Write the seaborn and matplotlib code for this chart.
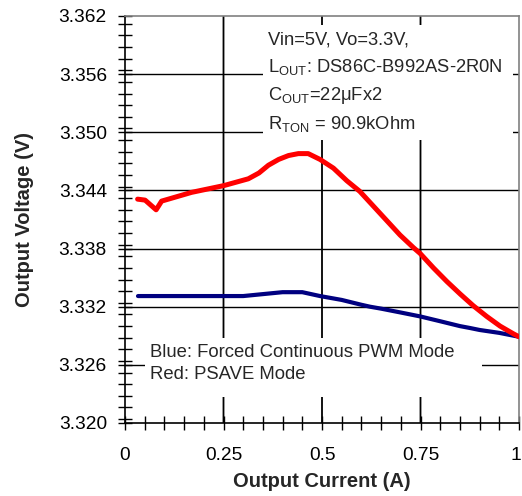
import matplotlib
matplotlib.use("Agg")
import matplotlib.pyplot as plt
import matplotlib.transforms as mtransforms
import seaborn as sns
import pandas as pd
from matplotlib.patches import Rectangle
from matplotlib.ticker import MultipleLocator, FixedLocator

# ---- data ----
blue_current = [0.033, 0.10, 0.20, 0.30, 0.35, 0.40, 0.45, 0.495, 0.55, 0.60,
                0.622, 0.65, 0.70, 0.749, 0.80, 0.85, 0.876, 0.90, 0.95, 1.00]
blue_voltage = [3.3331, 3.3331, 3.3331, 3.3331, 3.3333, 3.3335, 3.3335, 3.3331,
                3.3327, 3.3322, 3.3320, 3.3318, 3.3314, 3.3310, 3.3305, 3.3300,
                3.3298, 3.3296, 3.3293, 3.3289]

red_current = [0.032, 0.051, 0.079, 0.093, 0.110, 0.169, 0.251, 0.313, 0.340, 0.364,
               0.390, 0.415, 0.440, 0.465, 0.495, 0.529, 0.563, 0.596, 0.630, 0.664,
               0.698, 0.732, 0.749, 0.783, 0.817, 0.851, 0.884, 0.918, 0.952, 0.986,
               1.000]
red_voltage = [3.3431, 3.3430, 3.3420, 3.3429, 3.3431, 3.3438, 3.3445, 3.3452, 3.3458,
               3.3466, 3.3472, 3.3476, 3.3478, 3.3478, 3.3472, 3.3463, 3.3450, 3.3439,
               3.3424, 3.3409, 3.3394, 3.3381, 3.3375, 3.3360, 3.3346, 3.3333, 3.3321,
               3.3310, 3.3300, 3.3292, 3.3289]

x_ticks = [0, 0.25, 0.5, 0.75, 1]
x_tick_labels = ["0", "0.25", "0.5", "0.75", "1"]
y_ticks = [3.320, 3.326, 3.332, 3.338, 3.344, 3.350, 3.356, 3.362]
y_tick_labels = ["3.320", "3.326", "3.332", "3.338", "3.344", "3.350", "3.356", "3.362"]

info_lines = ["Vin=5V, Vo=3.3V,",
              "L$_{\\mathrm{OUT}}$: DS86C-B992AS-2R0N",
              "C$_{\\mathrm{OUT}}$=22μFx2",
              "R$_{\\mathrm{TON}}$ = 90.9kOhm"]
legend_lines = ["Blue: Forced Continuous PWM Mode", "Red: PSAVE Mode"]

sns.set_style("ticks")
plt.rcParams["font.family"] = ["Liberation Sans", "DejaVu Sans"]
plt.rcParams["mathtext.fontset"] = "custom"
plt.rcParams["mathtext.rm"] = "Liberation Sans"
plt.rcParams["mathtext.it"] = "Liberation Sans:italic"
plt.rcParams["mathtext.bf"] = "Liberation Sans:bold"

fig = plt.figure(figsize=(5.22, 4.96), dpi=100)
ax = fig.add_axes([125 / 522, 1 - 423 / 496, 394 / 522, 407 / 496])

blue_df = pd.DataFrame({"I": blue_current, "V": blue_voltage})
red_df = pd.DataFrame({"I": red_current, "V": red_voltage})
sns.lineplot(data=blue_df, x="I", y="V", ax=ax, color="#000080", linewidth=3.0,
             zorder=3, solid_capstyle="round", solid_joinstyle="round")
sns.lineplot(data=red_df, x="I", y="V", ax=ax, color="#ff0000", linewidth=3.6,
             zorder=4, solid_capstyle="round", solid_joinstyle="round")

ax.set_xlim(0, 1)
ax.set_ylim(3.320, 3.362)
ax.xaxis.set_major_locator(FixedLocator(x_ticks))
ax.set_xticklabels(x_tick_labels)
ax.yaxis.set_major_locator(FixedLocator(y_ticks))
ax.set_yticklabels(y_tick_labels)
ax.xaxis.set_minor_locator(MultipleLocator(0.05))
ax.yaxis.set_minor_locator(MultipleLocator(0.0012))

ax.tick_params(which="both", direction="inout", length=10, width=1, color="black",
               labelsize=13.8, labelcolor="black")
ax.tick_params(axis="y", which="both", pad=8)
ax.tick_params(axis="x", which="both", pad=12)

# keep the last x tick label inside the figure
last = ax.get_xticklabels()[-1]
last.set_transform(last.get_transform() +
                   mtransforms.ScaledTranslation(-3 / 100, 0, fig.dpi_scale_trans))

for s in ["left", "bottom"]:
    ax.spines[s].set_color("black")
    ax.spines[s].set_linewidth(1.2)
for s in ["top", "right"]:
    ax.spines[s].set_color("#808080")
    ax.spines[s].set_linewidth(1.2)

ax.set_xlabel("Output Current (A)", fontsize=14.5, fontweight="bold", labelpad=6)
ax.set_ylabel("Output Voltage (V)", fontsize=14.5, fontweight="bold", labelpad=18)

# grid lines at the major ticks
ax.vlines(x_ticks[1:-1], 0, 1, transform=ax.get_xaxis_transform(),
          colors="black", linewidth=1.3, zorder=0.6, snap=False)
ax.hlines(y_ticks[1:-1], 0, 1, transform=ax.get_yaxis_transform(),
          colors="black", linewidth=1.0, zorder=0.6)

# white boxes behind annotation text
ax.add_patch(Rectangle((0.350, 0.695), 0.635, 0.283, transform=ax.transAxes,
                       facecolor="white", edgecolor="none", zorder=1))
ax.add_patch(Rectangle((0.051, 0.064), 0.855, 0.145, transform=ax.transAxes,
                       facecolor="white", edgecolor="none", zorder=1))

for txt, yy in zip(info_lines, [0.941, 0.875, 0.804, 0.735]):
    ax.text(0.363, yy, txt, transform=ax.transAxes, fontsize=13.2, va="center",
            ha="left", zorder=5)
for txt, yy in zip(legend_lines, [0.174, 0.118]):
    ax.text(0.0635, yy, txt, transform=ax.transAxes, fontsize=13.3, va="center",
            ha="left", zorder=5)

fig.savefig("out.png", dpi=100)
